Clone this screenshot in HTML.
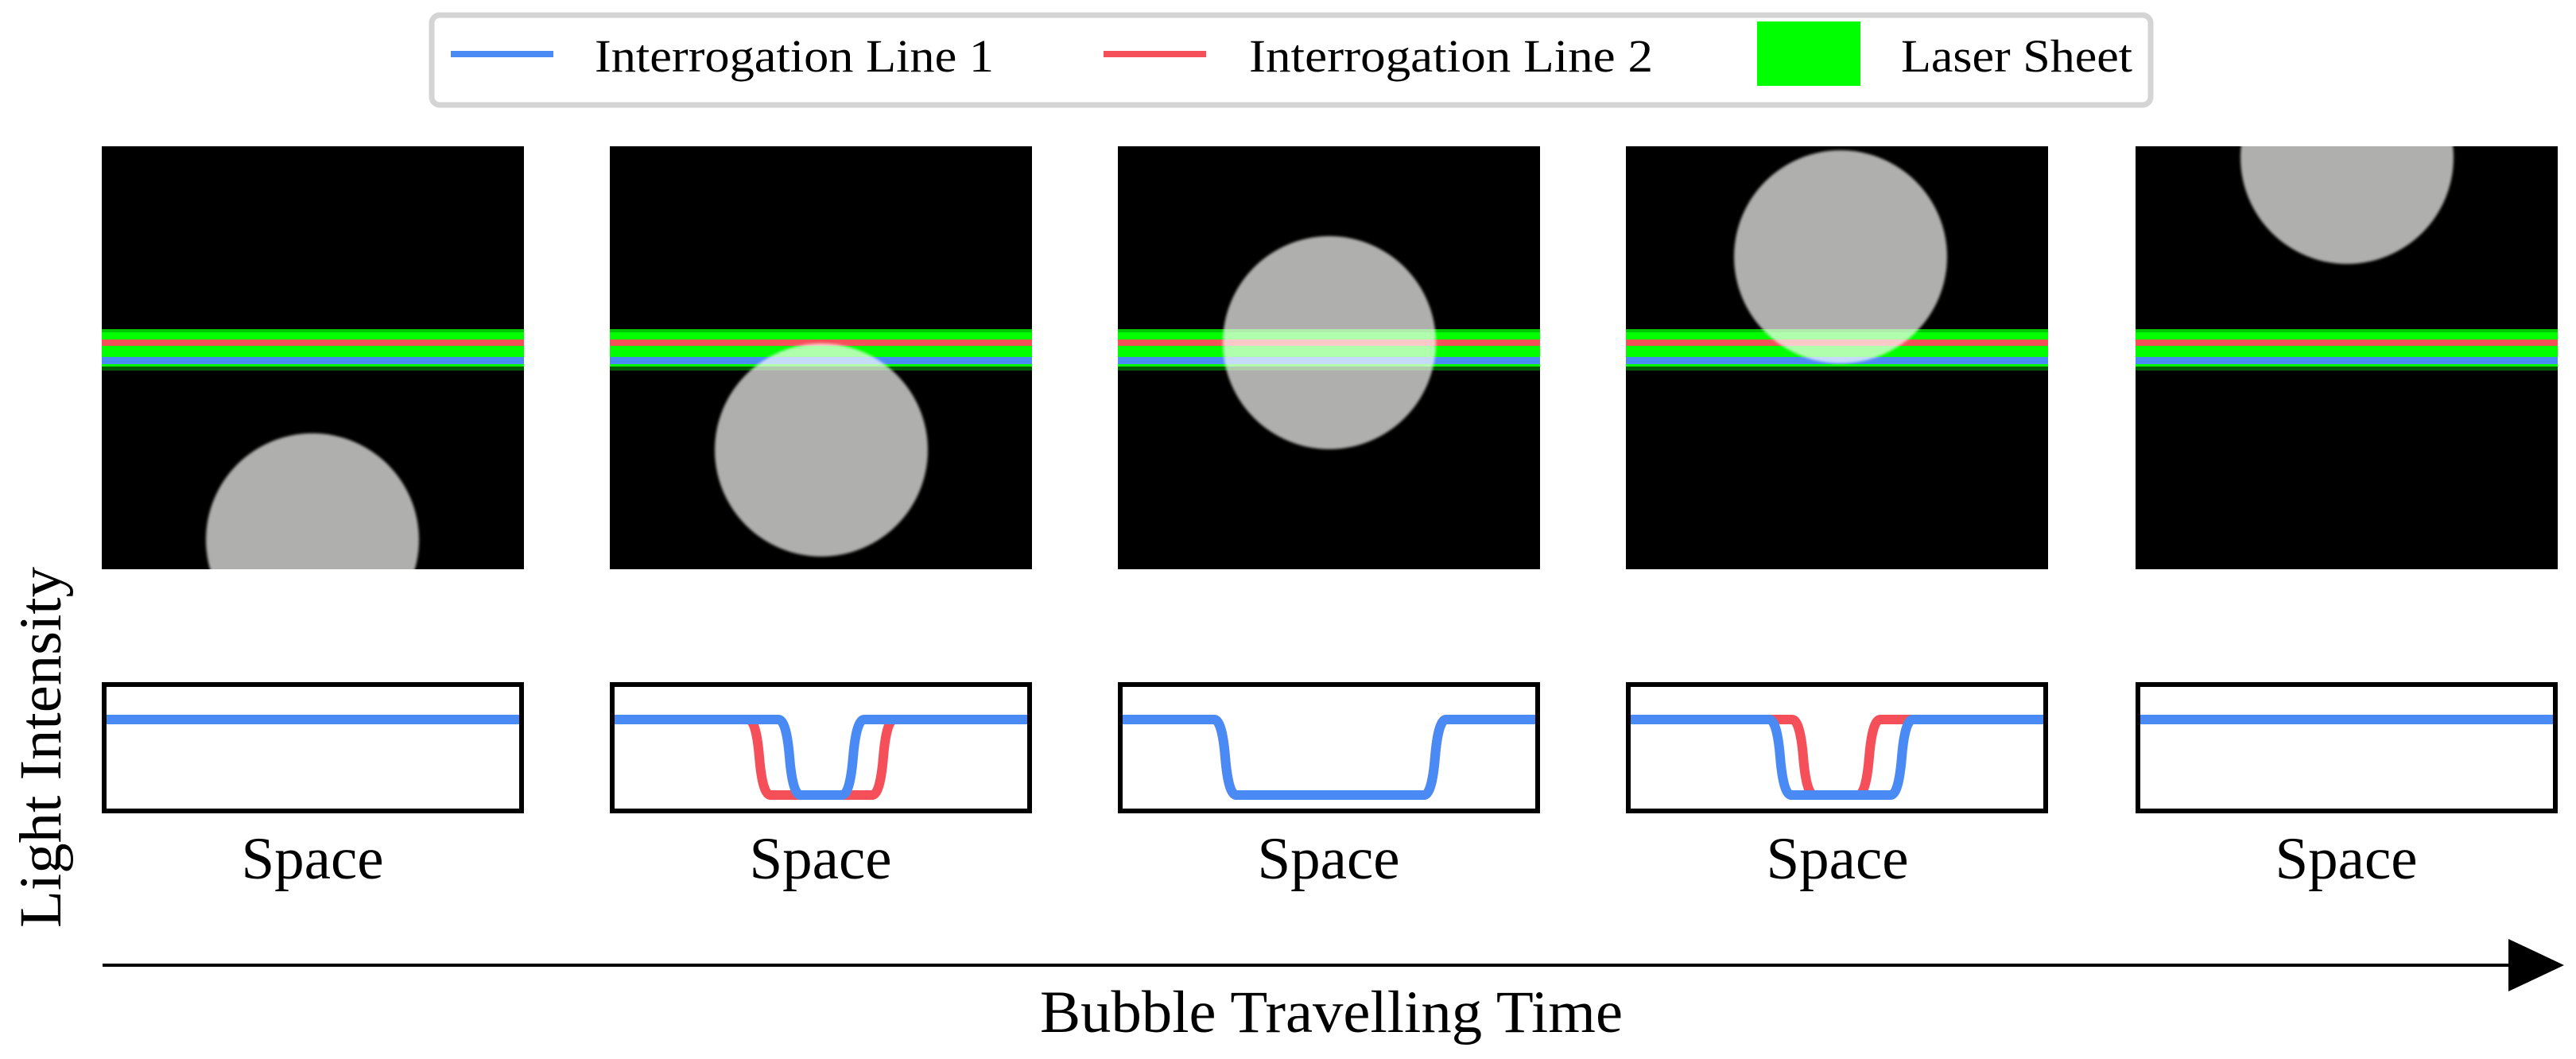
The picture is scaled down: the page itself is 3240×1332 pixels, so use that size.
<!DOCTYPE html>
<html><head><meta charset="utf-8"><style>
html,body{margin:0;padding:0;background:#fff;}
svg{display:block;}
text{font-family:"Liberation Serif",serif;fill:#000;}
</style></head><body>
<svg width="3240" height="1332" viewBox="0 0 3240 1332" xmlns="http://www.w3.org/2000/svg">
<defs>
<filter id="bl" x="-10%" y="-10%" width="120%" height="120%"><feGaussianBlur stdDeviation="1.5"/></filter>
<clipPath id="c0"><rect x="128" y="184" width="531" height="532"/></clipPath>
<clipPath id="c1"><rect x="767" y="184" width="531" height="532"/></clipPath>
<clipPath id="c2"><rect x="1406" y="184" width="531" height="532"/></clipPath>
<clipPath id="c3"><rect x="2045" y="184" width="531" height="532"/></clipPath>
<clipPath id="c4"><rect x="2686" y="184" width="531" height="532"/></clipPath>
<clipPath id="b0"><rect x="131" y="861" width="525" height="159"/></clipPath>
<clipPath id="b1"><rect x="770" y="861" width="525" height="159"/></clipPath>
<clipPath id="b2"><rect x="1409" y="861" width="525" height="159"/></clipPath>
<clipPath id="b3"><rect x="2048" y="861" width="525" height="159"/></clipPath>
<clipPath id="b4"><rect x="2689" y="861" width="525" height="159"/></clipPath>
<g id="bands">
<rect x="0" y="414" width="531" height="4" fill="#00c800"/>
<rect x="0" y="418" width="531" height="9" fill="#00ff00"/>
<rect x="0" y="427" width="531" height="8" fill="#f5505a"/>
<rect x="0" y="435" width="531" height="14" fill="#00ff00"/>
<rect x="0" y="449" width="531" height="9" fill="#4a8af4"/>
<rect x="0" y="458" width="531" height="3" fill="#00ff00"/>
<rect x="0" y="461" width="531" height="5" fill="#005c00"/>
</g>
</defs>

<!-- Legend -->
<rect x="543" y="19" width="2162" height="113" rx="10" fill="#fff" stroke="#d4d4d4" stroke-width="7"/>
<line x1="567" y1="68" x2="696" y2="68" stroke="#4a8af4" stroke-width="8"/>
<text x="748" y="90" font-size="58" textLength="502" lengthAdjust="spacingAndGlyphs">Interrogation Line 1</text>
<line x1="1388" y1="68" x2="1517" y2="68" stroke="#f5505a" stroke-width="8"/>
<text x="1571" y="90" font-size="58" textLength="508" lengthAdjust="spacingAndGlyphs">Interrogation Line 2</text>
<rect x="2210" y="27" width="130" height="81" fill="#00ff00"/>
<text x="2391" y="90" font-size="58" textLength="291" lengthAdjust="spacingAndGlyphs">Laser Sheet</text>

<!-- Image panels -->
<g clip-path="url(#c0)"><rect x="128" y="184" width="531" height="532" fill="#000"/>
<circle cx="393" cy="679" r="134" fill="#afb0ad" filter="url(#bl)"/>
<use href="#bands" x="128" style="mix-blend-mode:screen"/></g>
<g clip-path="url(#c1)"><rect x="767" y="184" width="531" height="532" fill="#000"/>
<circle cx="1033" cy="566" r="134" fill="#afb0ad" filter="url(#bl)"/>
<use href="#bands" x="767" style="mix-blend-mode:screen"/></g>
<g clip-path="url(#c2)"><rect x="1406" y="184" width="531" height="532" fill="#000"/>
<circle cx="1672" cy="431" r="134" fill="#afb0ad" filter="url(#bl)"/>
<use href="#bands" x="1406" style="mix-blend-mode:screen"/></g>
<g clip-path="url(#c3)"><rect x="2045" y="184" width="531" height="532" fill="#000"/>
<circle cx="2315" cy="323" r="134" fill="#afb0ad" filter="url(#bl)"/>
<use href="#bands" x="2045" style="mix-blend-mode:screen"/></g>
<g clip-path="url(#c4)"><rect x="2686" y="184" width="531" height="532" fill="#000"/>
<circle cx="2952" cy="198" r="134" fill="#afb0ad" filter="url(#bl)"/>
<use href="#bands" x="2686" style="mix-blend-mode:screen"/></g>

<!-- Intensity plots -->
<g fill="none" stroke-width="12" stroke-linejoin="round">
<g clip-path="url(#b0)">
<path d="M120 905 H670" stroke="#f5505a"/>
<path d="M120 905 H670" stroke="#4a8af4"/>
</g>
<g clip-path="url(#b1)">
<path d="M760 905 H941 Q951 905 955 952 Q959 1000 969 1000 H1097 Q1107 1000 1111 952 Q1115 905 1125 905 H1305" stroke="#f5505a"/>
<path d="M760 905 H979 Q989 905 993 952 Q997 1000 1007 1000 H1059 Q1069 1000 1073 952 Q1077 905 1087 905 H1305" stroke="#4a8af4"/>
</g>
<g clip-path="url(#b2)">
<path d="M1400 905 H1527 Q1537 905 1541 952 Q1545 1000 1555 1000 H1791 Q1801 1000 1805 952 Q1809 905 1819 905 H1945" stroke="#f5505a"/>
<path d="M1400 905 H1527 Q1537 905 1541 952 Q1545 1000 1555 1000 H1791 Q1801 1000 1805 952 Q1809 905 1819 905 H1945" stroke="#4a8af4"/>
</g>
<g clip-path="url(#b3)">
<path d="M2040 905 H2254 Q2264 905 2268 952 Q2272 1000 2282 1000 H2337 Q2347 1000 2351 952 Q2355 905 2365 905 H2585" stroke="#f5505a"/>
<path d="M2040 905 H2225 Q2235 905 2239 952 Q2243 1000 2253 1000 H2378 Q2388 1000 2392 952 Q2396 905 2406 905 H2585" stroke="#4a8af4"/>
</g>
<g clip-path="url(#b4)">
<path d="M2680 905 H3225" stroke="#f5505a"/>
<path d="M2680 905 H3225" stroke="#4a8af4"/>
</g>
</g>
<g fill="none" stroke="#000" stroke-width="6">
<rect x="131" y="861" width="525" height="159"/>
<rect x="770" y="861" width="525" height="159"/>
<rect x="1409" y="861" width="525" height="159"/>
<rect x="2048" y="861" width="525" height="159"/>
<rect x="2689" y="861" width="525" height="159"/>
</g>

<g font-size="75" text-anchor="middle">
<text x="393" y="1105">Space</text>
<text x="1032" y="1105">Space</text>
<text x="1671" y="1105">Space</text>
<text x="2311" y="1105">Space</text>
<text x="2951" y="1105">Space</text>
</g>

<text transform="translate(76 940) rotate(-90)" font-size="75" text-anchor="middle" textLength="454" lengthAdjust="spacingAndGlyphs">Light Intensity</text>

<!-- Time arrow -->
<line x1="129" y1="1214" x2="3160" y2="1214" stroke="#000" stroke-width="4"/>
<polygon points="3155,1188 3225,1221 3155,1254" fill="#000" transform="translate(0 -7)"/>
<text x="1308" y="1298" font-size="75" textLength="733" lengthAdjust="spacingAndGlyphs">Bubble Travelling Time</text>
</svg>
</body></html>
